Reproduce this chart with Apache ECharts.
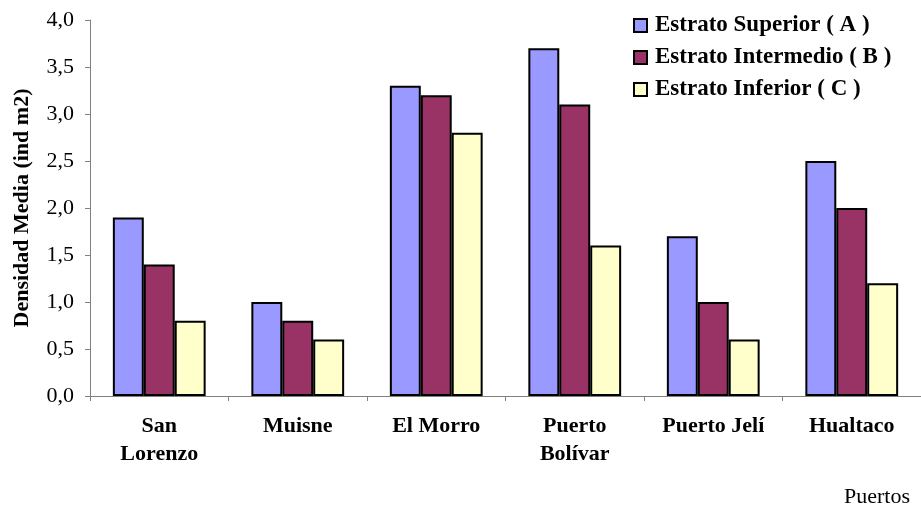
<!DOCTYPE html>
<html>
<head>
<meta charset="utf-8">
<script src="https://cdn.jsdelivr.net/npm/echarts@6/dist/echarts.min.js"></script>
<style>
  html, body { margin: 0; padding: 0; background: #fff; }
  #chart { width: 921px; height: 508px; }
</style>
</head>
<body>
<div id="chart"></div>
<script>
// puertos (categorias)
var puertos = ['San\nLorenzo', 'Muisne', 'El Morro', 'Puerto\nBolívar', 'Puerto Jelí', 'Hualtaco']
// densidad media por estrato
var estratoSuperior = [1.9, 1.0, 3.3, 3.7, 1.7, 2.5]
var estratoIntermedio = [1.4, 0.8, 3.2, 3.1, 1.0, 2.0]
var estratoInferior = [0.8, 0.6, 2.8, 1.6, 0.6, 1.2]
var nombres = ['Estrato Superior ( A )', 'Estrato Intermedio ( B )', 'Estrato Inferior ( C )']
var colores = ['#9999FF', '#993366', '#FFFFCC']

var serif = '"Liberation Serif", "Times New Roman", serif'

var myChart = echarts.init(document.getElementById('chart'))

function serie(name, data, color) {
    return {
        name: name,
        type: 'bar',
        barGap: '0%',
        barCategoryGap: '33%',
        itemStyle: {
            color: color,
            borderColor: '#000',
            borderWidth: 2
        },
        data: data
    }
}

var option = {
    backgroundColor: '#fff',
    animation: false,
    title: {
        text: 'Puertos',
        right: 6,
        bottom: -5,
        textStyle: { fontFamily: serif, fontWeight: 'normal', fontSize: 22, color: '#000' }
    },
    legend: {
        orient: 'vertical',
        left: 628,
        top: 9,
        itemWidth: 13,
        itemHeight: 13,
        itemGap: 9,
        icon: 'rect',
        itemStyle: { borderColor: '#000', borderWidth: 2 },
        textStyle: { fontFamily: serif, fontWeight: 'bold', fontSize: 23, color: '#000', padding: [0, 0, 0, 3] },
        data: nombres
    },
    grid: {
        left: 90,
        right: -6,
        top: 20,
        bottom: 112
    },
    xAxis: {
        type: 'category',
        data: puertos,
        axisLine: { lineStyle: { color: '#808080', width: 1 } },
        axisTick: { show: true, length: 5, lineStyle: { color: '#808080' } },
        axisLabel: {
            interval: 0,
            margin: 16,
            lineHeight: 28,
            fontFamily: serif,
            fontWeight: 'bold',
            fontSize: 22,
            color: '#000'
        }
    },
    yAxis: {
        type: 'value',
        min: 0,
        max: 4,
        interval: 0.5,
        name: 'Densidad Media (ind m2)',
        nameLocation: 'middle',
        nameGap: 57,
        nameTextStyle: { fontFamily: serif, fontWeight: 'bold', fontSize: 22, color: '#000' },
        axisLine: { show: true, lineStyle: { color: '#808080', width: 1 } },
        axisTick: { show: true, length: 5, lineStyle: { color: '#808080' } },
        splitLine: { show: false },
        axisLabel: {
            margin: 16,
            fontFamily: serif,
            fontSize: 22,
            color: '#000',
            formatter: function (v) { return v.toFixed(1).replace('.', ',') }
        }
    },
    series: [
        serie(nombres[0], estratoSuperior, colores[0]),
        serie(nombres[1], estratoIntermedio, colores[1]),
        serie(nombres[2], estratoInferior, colores[2])
    ]
}

myChart.setOption(option)
</script>
</body>
</html>
